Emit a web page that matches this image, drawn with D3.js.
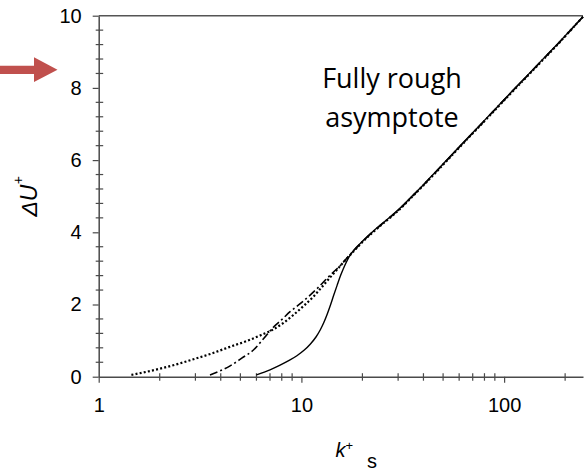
<!DOCTYPE html>
<html>
<head>
<meta charset="utf-8">
<script src="https://d3js.org/d3.v7.min.js"></script>
<style>
  html, body { margin: 0; padding: 0; background: #fff; }
  svg { display: block; }
</style>
</head>
<body>
<svg id="chart" width="586" height="472"></svg>
<script>
// ---- data ----
const solidK  = [6.0, 7.0, 7.85, 8.7, 9.5, 10.3, 11.05, 11.8, 12.4, 12.9, 13.4, 13.9, 14.4, 15.0, 15.6, 16.3, 17.1, 18.5, 20, 22, 25, 28, 30.7, 35, 40, 45, 55, 65.5, 80, 92, 110, 130, 155, 180, 210, 245];
const solidDU = [0.05, 0.19, 0.32, 0.45, 0.58, 0.73, 0.90, 1.10, 1.30, 1.50, 1.73, 1.98, 2.24, 2.53, 2.80, 3.06, 3.30, 3.56, 3.75, 3.97, 4.24, 4.47, 4.67, 4.99, 5.32, 5.62, 6.14, 6.59, 7.10, 7.46, 7.92, 8.34, 8.79, 9.17, 9.57, 9.97];

const dottedK  = [1.45, 2.0, 2.52, 3.0, 3.6, 4.4, 5.38, 6.3, 7.27, 8.2, 9.13, 10.3, 11.47, 12.6, 13.86, 15.0, 16.3, 18.5, 20, 22, 25, 28, 30.7, 35, 40, 45, 55, 65.5, 80, 92, 110, 130, 155, 180, 210, 245];
const dottedDU = [0.05, 0.22, 0.37, 0.50, 0.64, 0.82, 0.99, 1.15, 1.31, 1.50, 1.71, 1.97, 2.22, 2.48, 2.75, 2.97, 3.20, 3.53, 3.73, 3.95, 4.22, 4.45, 4.65, 4.97, 5.30, 5.60, 6.12, 6.57, 7.08, 7.44, 7.90, 8.32, 8.77, 9.15, 9.56, 9.97];

const dashK  = [3.54, 4.0, 4.45, 5.1, 5.8, 6.5, 7.27, 8.0, 8.79, 9.9, 11.04, 12.2, 13.35, 14.4, 15.5, 16.5, 17.6, 19, 20, 22, 25, 28, 30.7, 35, 40, 45, 55, 65.5, 80, 92, 110, 130, 155, 180, 210, 245];
const dashDU = [0.05, 0.17, 0.30, 0.52, 0.74, 1.05, 1.37, 1.58, 1.80, 2.03, 2.26, 2.49, 2.72, 2.90, 3.07, 3.24, 3.42, 3.61, 3.74, 3.96, 4.23, 4.46, 4.66, 4.98, 5.31, 5.61, 6.13, 6.58, 7.09, 7.45, 7.91, 8.33, 8.78, 9.16, 9.56, 9.97];

const xMajorTicks = [1, 10, 100];
const xMinorTicks = [2, 3, 4, 5, 6, 7, 8, 9, 20, 30, 40, 50, 60, 70, 80, 90, 200];
const yMajorTicks = [0, 2, 4, 6, 8, 10];
const yMinorTicks = [0.4, 0.8, 1.2, 1.6, 2.4, 2.8, 3.2, 3.6, 4.4, 4.8, 5.2, 5.6, 6.4, 6.8, 7.2, 7.6, 8.4, 8.8, 9.2, 9.6];
const annotationLines = ["Fully rough", "asymptote"];

// ---- layout ----
const svg = d3.select("#chart");
const mLeft = 98.7, mRight = 583, mTop = 15.7, mBottom = 376.7;
const x = d3.scaleLog().domain([1, 245]).range([mLeft, mRight]);
const y = d3.scaleLinear().domain([0, 10]).range([mBottom, mTop]);
const axisColor = "#4a4a4a";

// arrow annotation
svg.append("path")
  .attr("d", "M0,65.7 L34,65.7 L34,57.3 L57.5,69.7 L34,81.9 L34,74 L0,74 Z")
  .attr("fill", "#C0504D");

// top frame line
svg.append("line")
  .attr("x1", mLeft).attr("x2", mRight).attr("y1", mTop).attr("y2", mTop)
  .attr("stroke", "#555").attr("stroke-width", 1.5);

// minor ticks (crossing the axis)
svg.append("g").selectAll("line").data(xMinorTicks).join("line")
  .attr("x1", d => x(d)).attr("x2", d => x(d))
  .attr("y1", mBottom - 3.5).attr("y2", mBottom + 4)
  .attr("stroke", axisColor).attr("stroke-width", 1.2);
svg.append("g").selectAll("line").data(yMinorTicks).join("line")
  .attr("y1", d => y(d)).attr("y2", d => y(d))
  .attr("x1", mLeft - 3).attr("x2", mLeft + 4.5)
  .attr("stroke", axisColor).attr("stroke-width", 1.2);

// major axes
const gx = svg.append("g").attr("transform", `translate(0,${mBottom})`)
  .call(d3.axisBottom(x).tickValues(xMajorTicks).tickFormat(d3.format("d"))
        .tickSize(6).tickSizeOuter(0).tickPadding(14.8));
const gy = svg.append("g").attr("transform", `translate(${mLeft},0)`)
  .call(d3.axisLeft(y).tickValues(yMajorTicks).tickFormat(d3.format("d"))
        .tickSize(6).tickSizeOuter(0).tickPadding(11));
[gx, gy].forEach(g => {
  g.select(".domain").attr("stroke", axisColor).attr("stroke-width", 1.5);
  g.selectAll(".tick line").attr("stroke", axisColor).attr("stroke-width", 1.2);
  g.selectAll(".tick text").attr("fill", "#000")
    .style("font-family", "'Liberation Sans', Arial, sans-serif").style("font-size", "20px");
});

// curves
const line = d3.line().curve(d3.curveMonotoneX).x(d => x(d[0])).y(d => y(d[1]));
const zip = (a, b) => a.map((v, i) => [v, b[i]]);

svg.append("path").datum(zip(dottedK, dottedDU))
  .attr("d", line).attr("fill", "none").attr("stroke", "#000")
  .attr("stroke-width", 2.2).attr("stroke-dasharray", "2,2.2");
svg.append("path").datum(zip(dashK, dashDU))
  .attr("d", line).attr("fill", "none").attr("stroke", "#000")
  .attr("stroke-width", 1.6).attr("stroke-dasharray", "8,3,2,3");
svg.append("path").datum(zip(solidK, solidDU))
  .attr("d", line).attr("fill", "none").attr("stroke", "#000")
  .attr("stroke-width", 1.4);

// annotation text
svg.append("g").selectAll("text").data(annotationLines).join("text")
  .attr("x", 392).attr("y", (d, i) => 88.3 + i * 39)
  .attr("text-anchor", "middle")
  .style("font-family", "'Open Sans', 'Noto Sans', sans-serif")
  .style("font-size", "27px").attr("fill", "#000")
  .text(d => d);

// axis titles
const yt = svg.append("text")
  .attr("transform", "translate(37.3,196.5) rotate(-90)")
  .attr("text-anchor", "middle")
  .style("font-family", "'Liberation Sans', Arial, sans-serif")
  .style("font-size", "23px").style("font-style", "italic").attr("fill", "#000");
yt.append("tspan").text("ΔU");
yt.append("tspan").attr("dy", -14).style("font-size", "14px").text("+");

const xt = svg.append("text")
  .attr("x", 335.5).attr("y", 457.3)
  .style("font-family", "'Liberation Sans', Arial, sans-serif")
  .style("font-size", "20px").attr("fill", "#000");
xt.append("tspan").style("font-style", "italic").text("k");
xt.append("tspan").attr("dy", -7).style("font-size", "13px").text("+");
svg.append("text")
  .attr("x", 367).attr("y", 467.5)
  .style("font-family", "'Liberation Sans', Arial, sans-serif")
  .style("font-size", "20px").attr("fill", "#000")
  .text("s");
</script>
</body>
</html>
